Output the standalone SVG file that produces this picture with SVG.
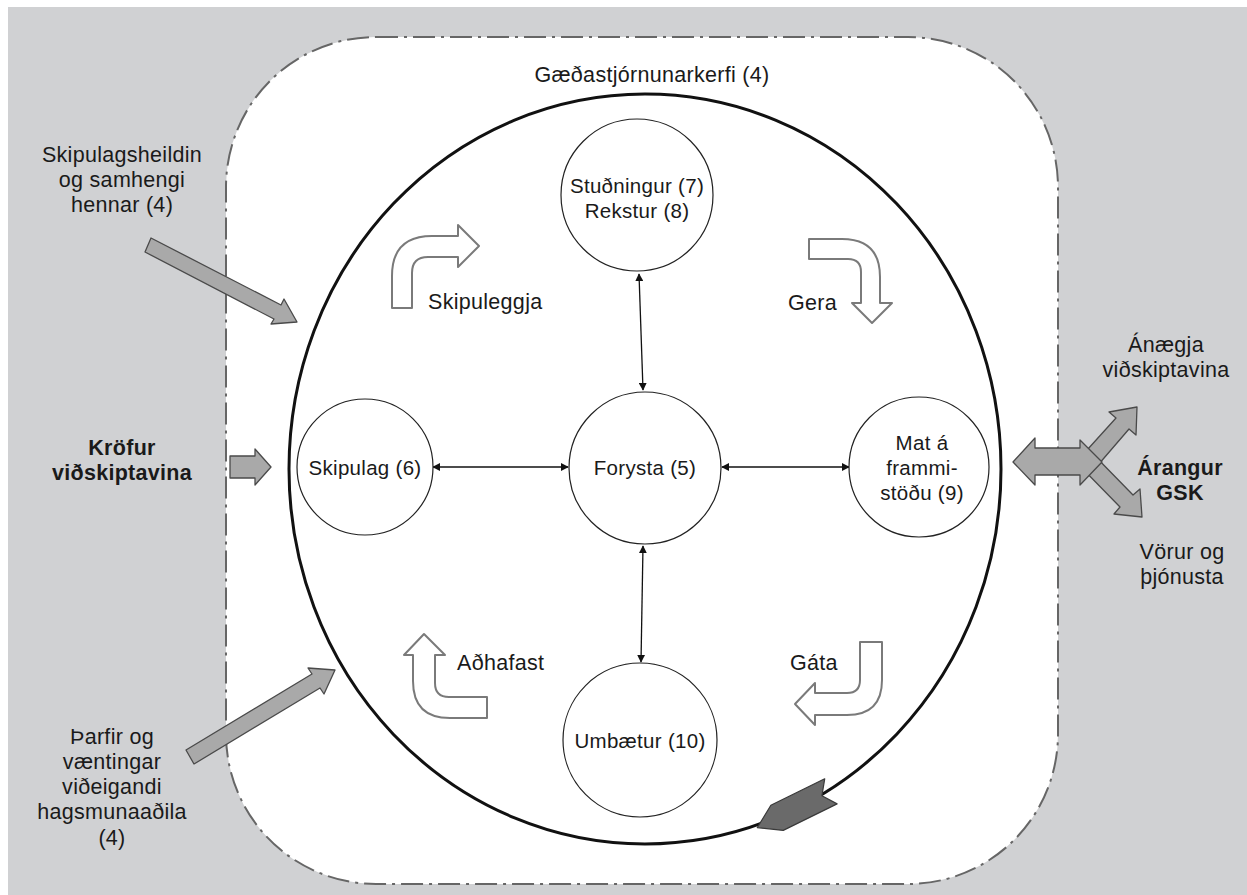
<svg xmlns="http://www.w3.org/2000/svg" width="1247" height="895" viewBox="0 0 1247 895">
<style>
text{font-family:"Liberation Sans",Arial,sans-serif;font-size:21.5px;fill:#1a1a1a;letter-spacing:0.3px}
.c{text-anchor:middle}
.b{font-weight:bold}
.n{font-size:20.5px}
.node{fill:#fff;stroke:#222;stroke-width:1.2}
.hollow{fill:#fff;stroke:#7a7a7a;stroke-width:2;stroke-linejoin:round}
.gray{fill:#a9a9a9;stroke:#4a4a4a;stroke-width:1.3;stroke-linejoin:round}
.link{stroke:#111;stroke-width:1.3;fill:none;marker-start:url(#ah);marker-end:url(#ah)}
</style>
<defs>
<marker id="ah" viewBox="0 0 10 10" refX="9" refY="5" markerWidth="8" markerHeight="8" orient="auto-start-reverse" markerUnits="userSpaceOnUse">
<path d="M0,0 L10,5 L0,10 Z" fill="#111"/>
</marker>
</defs>
<rect x="8" y="7" width="1239" height="888" fill="#d0d1d3"/>
<rect id="system" x="226" y="37" width="832" height="847" rx="150" ry="150" fill="#fff" stroke="#666" stroke-width="2" stroke-dasharray="22 6 3 6"/>
<g id="cycle">
<ellipse cx="645" cy="469" rx="356" ry="375" fill="none" stroke="#111" stroke-width="3"/>
<polygon transform="translate(795,809) rotate(-26.2)" points="-42,0 -20,-14 40,-14 30,0 40,14 -20,14" fill="#6a6a6a" stroke="#3a3a3a" stroke-width="1.2" stroke-linejoin="round"/>
</g>
<g id="connectors">
<line class="link" x1="639" y1="274" x2="643" y2="390"/>
<line class="link" x1="643" y1="546" x2="641" y2="662"/>
<line class="link" x1="433" y1="467" x2="568" y2="467"/>
<line class="link" x1="722" y1="467" x2="849" y2="467"/>
</g>
<g id="node-stodningur"><circle class="node" cx="637" cy="195" r="76"/><text class="c n" x="637" y="193">Stuðningur (7)</text><text class="c n" x="637" y="218">Rekstur (8)</text></g>
<g id="node-forysta"><circle class="node" cx="645" cy="468" r="76"/><text class="c n" x="645" y="475">Forysta (5)</text></g>
<g id="node-skipulag"><circle class="node" cx="365" cy="467" r="68"/><text class="c n" x="365" y="475">Skipulag (6)</text></g>
<g id="node-mat"><circle class="node" cx="919" cy="467" r="70"/><text class="c n" x="922" y="450">Mat á</text><text class="c n" x="922" y="475">frammi-</text><text class="c n" x="922" y="500">stöðu (9)</text></g>
<g id="node-umbaetur"><circle class="node" cx="640" cy="740" r="77"/><text class="c n" x="640" y="748">Umbætur (10)</text></g>
<g id="cycle-arrows">
<path class="hollow" d="M392,308 L392,276 Q392,236 432,236 L458,236 L458,225 L479,246 L458,267 L458,257 L428,257 Q412,257 412,273 L412,308 Z"/>
<path class="hollow" d="M809,239 L842,239 Q880,239 880,277 L880,303 L892,303 L872,323 L852,303 L861,303 L861,272 Q861,259 848,259 L809,259 Z"/>
<path class="hollow" d="M413,655 L404,655 L424,634 L445,655 L435,655 L435,683 Q435,697 449,697 L487,697 L487,718 L450,718 Q413,718 413,681 Z"/>
<path class="hollow" d="M860,642 L882,642 L882,680 Q882,715 847,715 L815,715 L815,725 L795,704 L815,683 L815,693 L847,693 Q860,693 860,680 Z"/>
<text x="428" y="309">Skipuleggja</text>
<text x="788" y="310">Gera</text>
<text x="457" y="670">Aðhafast</text>
<text x="790" y="670">Gáta</text>
</g>
<g id="inputs">
<polygon class="gray" points="151,238 281,305 284,299 297,322 271,324 274,319 145,252"/>
<polygon class="gray" points="230,456 255,456 255,449 271,467 255,485 255,478 230,478"/>
<polygon class="gray" points="186,750 312,674 308,668 335,670 324,694 320,688 194,764"/>
<polygon class="gray" points="1078,460 1116,418 1109,412 1137,407 1136,435 1129,429 1092,472"/>
<polygon class="gray" points="1091,452 1133,495 1140,489 1142,517 1114,514 1120,507 1078,464"/>
<polygon class="gray" points="1013,462 1035,438 1035,448 1080,448 1080,440 1102,462 1080,485 1080,475 1035,475 1035,485"/>
<text class="c" x="652" y="82">Gæðastjórnunarkerfi (4)</text>
<text class="c" x="122" y="162">Skipulagsheildin</text>
<text class="c" x="122" y="187">og samhengi</text>
<text class="c" x="122" y="212">hennar (4)</text>
<text class="c b" x="122" y="455">Kröfur</text>
<text class="c b" x="122" y="480">viðskiptavina</text>
<text class="c" x="112" y="744">Þarfir og</text>
<text class="c" x="112" y="769">væntingar</text>
<text class="c" x="112" y="794">viðeigandi</text>
<text class="c" x="112" y="819">hagsmunaaðila</text>
<text class="c" x="112" y="845">(4)</text>
<text class="c" x="1166" y="352">Ánægja</text>
<text class="c" x="1166" y="377">viðskiptavina</text>
<text class="c b" x="1180" y="475">Árangur</text>
<text class="c b" x="1180" y="500">GSK</text>
<text class="c" x="1182" y="559">Vörur og</text>
<text class="c" x="1182" y="584">þjónusta</text>
</g>
</svg>
